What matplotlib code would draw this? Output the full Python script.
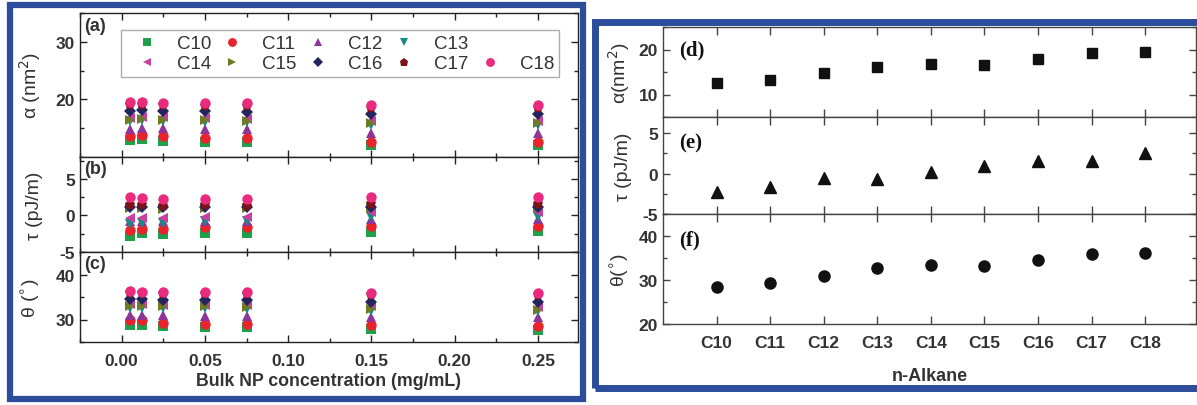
import numpy as np
import matplotlib
matplotlib.use("Agg")
import matplotlib.pyplot as plt
from matplotlib.patches import Rectangle
from matplotlib.lines import Line2D
from matplotlib.ticker import MultipleLocator

plt.rcParams['font.family'] = ['Liberation Sans', 'DejaVu Sans']
plt.rcParams['axes.unicode_minus'] = False

# 左图：浓度
conc = [0.005, 0.0125, 0.025, 0.05, 0.075, 0.15, 0.25]
alkanes = ['C10', 'C11', 'C12', 'C13', 'C14', 'C15', 'C16', 'C17', 'C18']

alpha_conc = {
    'C10': [13.0, 13.2, 12.8, 12.6, 12.6, 12.0, 12.0],
    'C11': [13.6, 13.8, 13.6, 13.3, 13.3, 12.6, 12.6],
    'C12': [14.8, 15.0, 15.0, 14.8, 14.8, 14.2, 14.2],
    'C13': [16.3, 16.4, 16.2, 16.0, 16.0, 15.6, 15.6],
    'C14': [16.8, 17.0, 16.9, 16.8, 16.6, 16.2, 16.2],
    'C15': [16.5, 16.6, 16.5, 16.4, 16.2, 15.9, 15.9],
    'C16': [18.0, 18.2, 18.0, 17.9, 17.8, 17.5, 17.5],
    'C17': [19.0, 19.1, 19.0, 18.8, 18.8, 18.5, 18.5],
    'C18': [19.6, 19.5, 19.4, 19.4, 19.4, 19.1, 19.1],
}
tau_conc = {
    'C10': [-2.8, -2.4, -2.6, -2.4, -2.4, -2.3, -2.1],
    'C11': [-2.0, -1.8, -1.8, -1.6, -1.6, -1.4, -1.4],
    'C12': [-0.8, -0.7, -0.8, -0.7, -0.7, -0.5, -0.5],
    'C13': [-1.1, -1.0, -1.0, -0.8, -0.8, -0.2, -0.2],
    'C14': [-0.4, -0.3, -0.3, -0.2, -0.2, 0.5, 0.5],
    'C15': [1.0, 1.0, 0.9, 1.0, 1.0, 1.0, 1.0],
    'C16': [1.2, 1.2, 1.2, 1.2, 1.2, 1.2, 1.2],
    'C17': [1.4, 1.4, 1.3, 1.4, 1.3, 1.6, 1.6],
    'C18': [2.5, 2.4, 2.2, 2.2, 2.2, 2.5, 2.5],
}
theta_conc = {
    'C10': [28.8, 28.8, 28.6, 28.4, 28.4, 27.8, 27.6],
    'C11': [29.8, 29.8, 29.2, 29.0, 29.0, 28.7, 28.5],
    'C12': [31.0, 31.0, 31.0, 30.8, 30.8, 30.5, 30.5],
    'C13': [32.6, 32.6, 32.6, 32.5, 32.4, 32.0, 32.0],
    'C14': [33.4, 33.4, 33.3, 33.2, 33.2, 33.0, 32.8],
    'C15': [33.1, 33.1, 33.0, 33.0, 32.8, 32.3, 32.2],
    'C16': [34.5, 34.5, 34.4, 34.3, 34.3, 34.0, 34.0],
    'C17': [35.8, 35.8, 35.6, 35.6, 35.6, 35.5, 35.5],
    'C18': [36.3, 36.2, 36.2, 36.1, 36.1, 36.0, 36.0],
}

# 右图：平均值
alpha_mean = [12.6, 13.2, 14.7, 16.2, 16.8, 16.6, 18.0, 19.2, 19.4]
tau_mean = [-2.3, -1.6, -0.6, -0.7, 0.2, 1.0, 1.5, 1.5, 2.5]
theta_mean = [28.5, 29.3, 30.9, 32.7, 33.4, 33.2, 34.6, 36.0, 36.2]

colors = ['#1fa04a', '#e8232b', '#8e3597', '#178a82', '#c8409f',
          '#6e7b24', '#24245e', '#7a1418', '#ea2a7c']
markers = ['s', 'o', '^', 'v', '<', '>', 'D', 'p', 'o']
msizes = [6.5, 7.5, 7.5, 7.5, 7.5, 7.5, 6, 7.5, 7.5]

fig = plt.figure(figsize=(11.97, 4.06), dpi=100)
W, H = 1197.0, 406.0


def box(x0, y0, x1, y1):
    return [x0 / W, 1 - y1 / H, (x1 - x0) / W, (y1 - y0) / H]


dark = '#222222'
TFS = 12.5


def style(ax, ymaj, ymin, spine_col):
    ax.tick_params(which='both', direction='in', top=True, right=True,
                   colors=spine_col, labelcolor='#333333')
    ax.tick_params(which='major', length=5, width=1.0)
    ax.tick_params(which='minor', length=3, width=1.0)
    ax.yaxis.set_major_locator(MultipleLocator(ymaj))
    ax.yaxis.set_minor_locator(MultipleLocator(ymin))
    for s in ax.spines.values():
        s.set_color(spine_col)
        s.set_linewidth(1.0)


def bold_ticks(ax):
    for lab in ax.get_yticklabels() + ax.get_xticklabels():
        lab.set_fontweight('bold')
        lab.set_fontsize(TFS)


# ---- 左图 ----
axa = fig.add_axes(box(80, 14, 578, 158))
axb = fig.add_axes(box(80, 158, 578, 253))
axc = fig.add_axes(box(80, 253, 578, 343))

handles = []
for ax, data in [(axa, alpha_conc), (axb, tau_conc), (axc, theta_conc)]:
    for name, c, m, ms in zip(alkanes, colors, markers, msizes):
        h, = ax.plot(conc, data[name], linestyle='none', marker=m, color=c,
                     markersize=ms, markeredgewidth=0, label=name)
        if ax is axa:
            handles.append(h)
    ax.set_xlim(-0.025, 0.274)
    ax.xaxis.set_major_locator(MultipleLocator(0.05))
    ax.xaxis.set_minor_locator(MultipleLocator(0.025))

axa.set_ylim(10, 35)
axb.set_ylim(-5, 8)
axc.set_ylim(25, 45)
style(axa, 10, 5, dark)
style(axb, 5, 2.5, dark)
style(axc, 10, 5, dark)
axa.set_yticks([20, 30])
axb.set_yticks([-5, 0, 5])
axc.set_yticks([30, 40])
axa.tick_params(labelbottom=False)
axb.tick_params(labelbottom=False)
axc.set_xticks([0.0, 0.05, 0.10, 0.15, 0.20, 0.25])
axc.set_xticklabels(['0.00', '0.05', '0.10', '0.15', '0.20', '0.25'])
axc.tick_params(axis='x', pad=8)
for ax in (axa, axb, axc):
    bold_ticks(ax)

axa.set_ylabel(r'α (nm$^2$)', fontsize=14, color='#333333')
axb.set_ylabel('τ (pJ/m)', fontsize=14, color='#333333')
axc.set_ylabel(r'θ ($^{\circ}$)', fontsize=14, color='#333333')
for ax in (axa, axb, axc):
    ax.yaxis.set_label_coords(-0.074, 0.5)
axc.set_xlabel('Bulk NP concentration (mg/mL)', fontsize=12.8,
               fontweight='bold', color='#333333', labelpad=3)

for ax, lab in [(axa, '(a)'), (axb, '(b)'), (axc, '(c)')]:
    ax.text(0.008, 0.97, lab, transform=ax.transAxes, ha='left', va='top',
            fontsize=13, fontweight='bold', color='#333333')

blank = Line2D([], [], linestyle='none', marker=None)
order = [handles[0], handles[4], handles[1], handles[5], handles[2],
         handles[6], handles[3], handles[7], blank, handles[8]]
labels = ['C10', 'C14', 'C11', 'C15', 'C12', 'C16', 'C13', 'C17', '', 'C18']
leg = axa.legend(order, labels, ncol=5, loc='upper left',
                 bbox_to_anchor=(32 / 498, 1 - 8 / 144, 456 / 498, 0),
                 mode='expand', frameon=True, fancybox=False,
                 fontsize=13.5, handletextpad=0.5, columnspacing=0.4,
                 borderpad=0.25, labelspacing=0.15, markerscale=0.85,
                 handlelength=2.2)
leg.get_frame().set_edgecolor('#999999')
leg.get_frame().set_linewidth(1.0)
for t in leg.get_texts():
    t.set_color('#333333')

# ---- 右图 ----
xi = np.arange(len(alkanes))
axd = fig.add_axes(box(663, 28, 1196, 118))
axe = fig.add_axes(box(663, 118, 1196, 215))
axf = fig.add_axes(box(663, 215, 1196, 325))

axd.plot(xi, alpha_mean, linestyle='none', marker='s', color='#111111',
         markersize=7)
axe.plot(xi, tau_mean, linestyle='none', marker='^', color='#111111',
         markersize=8)
axf.plot(xi, theta_mean, linestyle='none', marker='o', color='#111111',
         markersize=8)

axd.set_ylim(5, 25)
axe.set_ylim(-5, 7)
axf.set_ylim(20, 45)
spine2 = '#444444'
style(axd, 10, 5, spine2)
style(axe, 5, 2.5, spine2)
style(axf, 10, 5, spine2)
axd.set_yticks([10, 20])
axe.set_yticks([-5, 0, 5])
axf.set_yticks([20, 30, 40])
for ax in (axd, axe, axf):
    ax.set_xlim(-1, 8.95)
    ax.set_xticks(xi)
    ax.xaxis.set_minor_locator(plt.NullLocator())
    ax.tick_params(axis='x', which='major', length=6)
axd.tick_params(labelbottom=False)
axe.tick_params(labelbottom=False)
axf.set_xticklabels(alkanes)
axf.tick_params(axis='x', pad=8)
for ax in (axd, axe, axf):
    bold_ticks(ax)

axd.set_ylabel(r'α(nm$^2$)', fontsize=14, color='#333333')
axe.set_ylabel('τ (pJ/m)', fontsize=14, color='#333333')
axf.set_ylabel(r'θ($^{\circ}$)', fontsize=14, color='#333333')
for ax in (axd, axe, axf):
    ax.yaxis.set_label_coords(-0.058, 0.5)
axf.set_xlabel('n-Alkane', fontsize=13, fontweight='bold', color='#333333',
               labelpad=12)

for ax, lab, yy in [(axd, '(d)', 0.86), (axe, '(e)', 0.84), (axf, '(f)', 0.86)]:
    ax.text(0.03, yy, lab, transform=ax.transAxes, ha='left', va='top',
            fontsize=15, fontweight='bold', family='Liberation Serif',
            color='#111111')

# 蓝色边框
blue = '#2c4d9c'
fig.patches.append(Rectangle((10 / W, 1 - 400 / H), 573 / W, 394 / H,
                             transform=fig.transFigure, fill=False,
                             edgecolor=blue, linewidth=4.5, zorder=10))
fig.patches.append(Rectangle((595 / W, 1 - 389 / H), 620 / W, 366 / H,
                             transform=fig.transFigure, fill=False,
                             edgecolor=blue, linewidth=5, zorder=10))

fig.savefig('out.png', dpi=100)
